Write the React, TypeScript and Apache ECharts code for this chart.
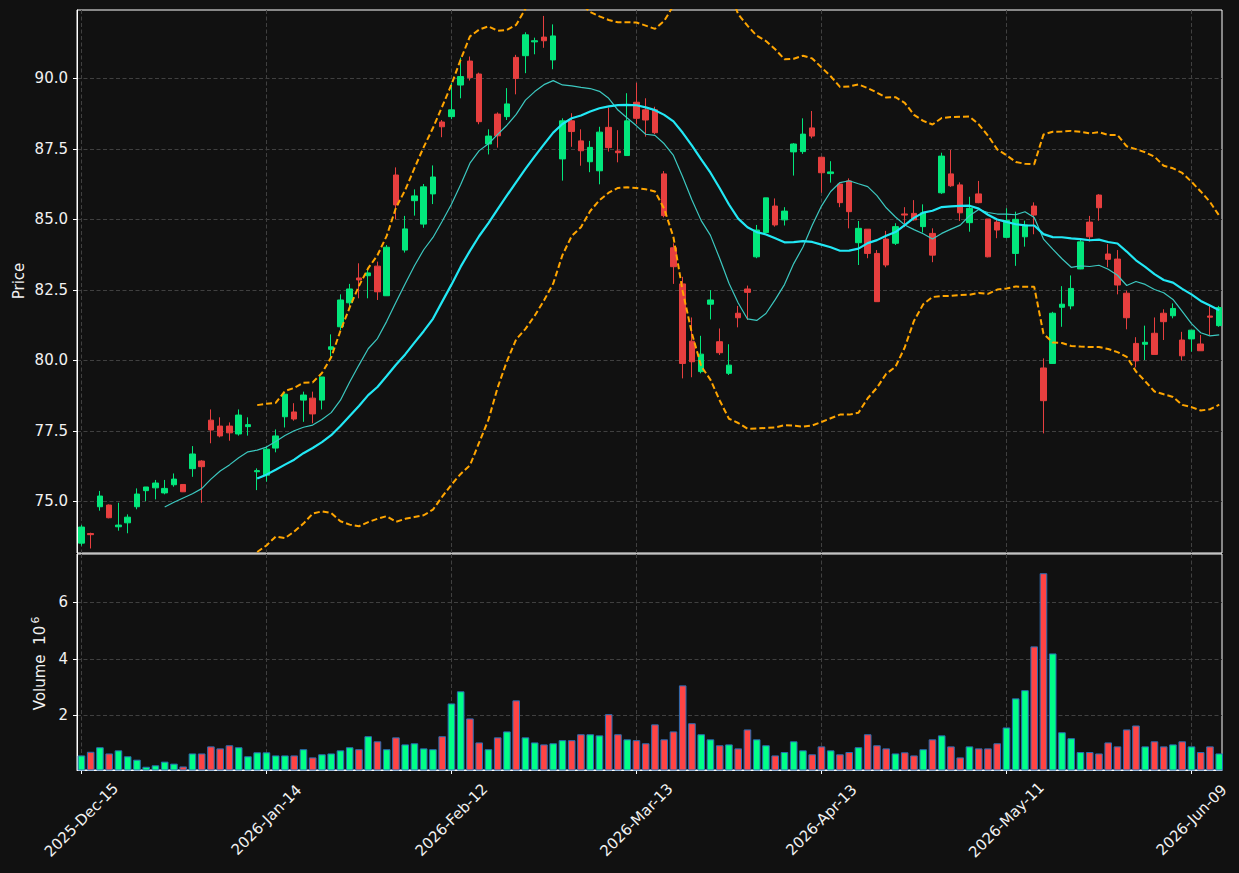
import React, { useEffect, useRef } from "react";
import * as echarts from "echarts";

const tickIndex = [0, 20, 40, 60, 80, 100, 120];
const tickLabels = ["2025-Dec-15", "2026-Jan-14", "2026-Feb-12", "2026-Mar-13", "2026-Apr-13", "2026-May-11", "2026-Jun-09"];

const opens = [
  73.52, 73.86, 74.81, 74.87, 74.10, 74.24, 74.81, 75.38, 75.48, 75.30,
  75.59, 75.60, 76.16, 76.43, 77.88, 77.67, 77.67, 77.39, 77.65, 76.05,
  75.93, 76.89, 78.00, 78.17, 78.59, 78.66, 78.59, 80.39, 81.19, 82.04,
  82.92, 83.00, 83.34, 82.29, 86.57, 83.91, 85.66, 84.83, 85.90, 88.45,
  88.64, 89.76, 90.61, 90.15, 87.67, 88.73, 88.64, 90.74, 90.80, 91.29,
  91.46, 90.65, 87.14, 88.49, 87.78, 87.04, 86.72, 88.26, 87.42, 87.26,
  89.15, 88.88, 88.88, 86.61, 83.99, 82.71, 80.68, 79.60, 81.99, 80.66,
  79.54, 81.67, 82.53, 83.67, 84.53, 85.47, 84.98, 87.39, 87.40, 88.24,
  87.20, 86.62, 86.25, 86.36, 84.17, 84.65, 83.79, 84.30, 84.15, 85.19,
  85.21, 84.74, 84.50, 85.94, 86.61, 86.22, 84.88, 85.90, 85.01, 84.90,
  84.36, 83.79, 84.38, 85.47, 79.73, 79.89, 81.88, 81.93, 83.24, 84.90,
  85.86, 83.77, 83.59, 82.38, 80.60, 80.57, 80.96, 81.67, 81.58, 80.72,
  80.76, 80.58, 81.57, 81.23,
];
const highs = [
  74.16, 73.89, 75.37, 74.89, 74.95, 74.54, 75.46, 75.51, 75.76, 75.76,
  75.99, 75.61, 76.96, 76.46, 78.26, 77.98, 77.80, 78.26, 77.98, 76.17,
  76.96, 77.55, 78.83, 78.48, 78.89, 78.89, 79.41, 80.92, 82.34, 82.71,
  83.44, 83.26, 83.50, 84.09, 86.84, 85.12, 86.06, 86.25, 86.91, 88.52,
  89.83, 90.73, 90.77, 90.20, 88.19, 88.79, 89.65, 90.83, 91.63, 91.44,
  92.21, 91.91, 88.58, 88.76, 88.19, 87.78, 88.28, 88.96, 88.16, 89.47,
  89.84, 89.29, 88.99, 86.71, 84.15, 82.96, 81.52, 80.87, 82.49, 81.13,
  80.57, 81.93, 82.65, 84.80, 85.76, 85.74, 85.43, 87.70, 88.58, 88.84,
  87.22, 87.06, 86.25, 86.45, 84.94, 84.65, 83.91, 84.59, 84.86, 85.43,
  85.68, 85.53, 84.68, 87.36, 87.46, 86.31, 85.80, 86.36, 85.01, 84.98,
  85.39, 85.27, 84.95, 85.60, 80.07, 81.72, 82.63, 83.01, 84.27, 85.12,
  85.89, 84.12, 83.91, 82.47, 80.82, 81.23, 81.52, 81.81, 82.02, 81.01,
  81.07, 80.90, 81.93, 81.93,
];
const lows = [
  73.43, 73.33, 74.67, 74.40, 73.96, 73.87, 74.72, 75.01, 75.07, 75.25,
  75.52, 75.33, 75.87, 74.95, 77.06, 77.27, 77.15, 77.33, 77.33, 75.40,
  75.70, 76.74, 77.62, 77.86, 77.82, 77.77, 78.26, 80.13, 81.07, 81.90,
  82.20, 82.20, 82.14, 82.29, 85.00, 83.82, 85.13, 84.70, 85.54, 87.91,
  88.55, 89.29, 89.92, 88.37, 87.30, 87.54, 88.52, 89.43, 90.18, 90.85,
  91.08, 90.32, 86.37, 87.57, 86.90, 86.67, 86.24, 87.40, 87.02, 87.26,
  88.38, 87.93, 88.02, 85.07, 82.71, 79.36, 79.40, 79.54, 81.45, 80.19,
  79.48, 81.17, 81.43, 83.62, 84.50, 84.74, 84.78, 86.55, 87.32, 87.87,
  85.94, 86.30, 85.43, 84.68, 83.38, 83.62, 82.08, 83.30, 84.09, 84.72,
  84.95, 84.53, 83.48, 85.90, 86.15, 84.94, 84.56, 85.57, 83.65, 84.33,
  84.33, 83.35, 84.03, 84.47, 77.41, 79.87, 81.19, 81.81, 83.23, 84.21,
  84.95, 83.30, 82.34, 81.10, 79.75, 80.01, 80.21, 80.72, 81.49, 79.99,
  80.31, 80.34, 80.90, 81.19,
];
const closes = [
  74.09, 73.82, 75.19, 74.42, 74.16, 74.44, 75.26, 75.51, 75.65, 75.46,
  75.79, 75.34, 76.68, 76.23, 77.53, 77.32, 77.43, 78.06, 77.72, 76.09,
  76.85, 77.32, 78.80, 77.92, 78.77, 78.10, 79.41, 80.48, 82.14, 82.53,
  82.85, 83.10, 82.43, 84.01, 85.51, 84.66, 85.83, 86.15, 86.50, 88.28,
  88.88, 90.06, 90.02, 88.46, 87.95, 87.96, 89.09, 89.99, 91.54, 91.33,
  91.33, 91.50, 88.49, 88.11, 87.43, 87.55, 88.09, 87.54, 87.36, 88.49,
  88.58, 88.52, 88.07, 85.13, 83.32, 79.89, 79.95, 80.22, 82.14, 80.27,
  79.83, 81.51, 82.41, 84.62, 85.76, 84.80, 85.29, 87.67, 88.02, 87.95,
  86.65, 86.68, 85.59, 85.27, 84.68, 83.79, 82.08, 83.38, 84.74, 85.15,
  84.98, 85.23, 83.73, 87.24, 86.19, 85.23, 85.39, 85.59, 83.67, 84.62,
  84.96, 85.00, 84.80, 85.15, 78.57, 81.67, 81.99, 82.55, 84.20, 84.38,
  85.41, 83.58, 82.67, 81.51, 79.98, 80.64, 80.21, 81.37, 81.84, 80.16,
  81.07, 80.34, 81.53, 81.87,
];
const volumes = [
  580000, 710000, 870000, 650000, 760000, 550000, 430000, 180000, 230000, 360000,
  290000, 190000, 650000, 650000, 900000, 830000, 940000, 870000, 550000, 690000,
  690000, 580000, 580000, 580000, 800000, 510000, 620000, 650000, 760000, 870000,
  800000, 1260000, 1080000, 800000, 1220000, 970000, 1010000, 830000, 800000, 1260000,
  2420000, 2850000, 1890000, 1040000, 800000, 1220000, 1430000, 2530000, 1220000, 1040000,
  970000, 1010000, 1120000, 1120000, 1330000, 1330000, 1290000, 2040000, 1330000, 1150000,
  1120000, 1010000, 1680000, 1150000, 1430000, 3060000, 1720000, 1330000, 1150000, 940000,
  970000, 830000, 1500000, 1150000, 940000, 580000, 700000, 1080000, 760000, 620000,
  900000, 760000, 620000, 700000, 870000, 1330000, 940000, 830000, 650000, 690000,
  580000, 800000, 1150000, 1290000, 900000, 510000, 900000, 830000, 830000, 1010000,
  1570000, 2600000, 2890000, 4440000, 7030000, 4190000, 1400000, 1190000, 700000, 700000,
  650000, 1040000, 900000, 1500000, 1640000, 900000, 1080000, 900000, 970000, 1080000,
  900000, 700000, 900000, 650000,
];

const priceTicks = [75, 77.5, 80, 82.5, 85, 87.5, 90];
const volumeTicks = [2000000, 4000000, 6000000];

const UP = "#02e77c";
const DOWN = "#e73f3f";
const VUP = "#00ff88";
const VDOWN = "#ff4444";
const VEDGE = "#2a6db5";
const TEXT = "#f2f2f2";
const FONT = "DejaVu Sans";
const FS = 15;

function sma(values: number[], n: number) {
  const out: number[][] = [];
  for (let i = n - 1; i < values.length; i++) {
    let s = 0;
    for (let j = i - n + 1; j <= i; j++) s += values[j];
    out.push([i, s / n]);
  }
  return out;
}

function bands(values: number[], n: number, k: number) {
  const up: number[][] = [];
  const lo: number[][] = [];
  for (let i = n - 1; i < values.length; i++) {
    const w = values.slice(i - n + 1, i + 1);
    const m = w.reduce((a, b) => a + b, 0) / n;
    const v = w.reduce((a, b) => a + (b - m) * (b - m), 0) / (n - 1);
    const sd = Math.sqrt(v);
    up.push([i, m + k * sd]);
    lo.push([i, m - k * sd]);
  }
  return { up, lo };
}

export default function App() {
  const ref = useRef<HTMLDivElement>(null);
  useEffect(() => {
    const chart = echarts.init(ref.current!, null, { renderer: "svg" });
    const ma10 = sma(closes, 10);
    const ma20 = sma(closes, 20);
    const bb = bands(closes, 20, 2);
    const grid = { color: "#404040", width: 1, type: [4, 2.5] as number[] };
    const xMin = -0.48;
    const xMax = 123.3;
    const xFmt = (v: number) => {
      const k = tickIndex.indexOf(Math.round(v));
      return k >= 0 ? tickLabels[k] : "";
    };
    const option: any = {
      animation: false,
      backgroundColor: "#111111",
      grid: [
        { left: 77, top: 10, width: 1145, height: 543, show: true, borderColor: "#ffffff", borderWidth: 1, backgroundColor: "#111111" },
        { left: 77, top: 554, width: 1145, height: 216, show: true, borderColor: "#ffffff", borderWidth: 1, backgroundColor: "#111111" },
      ],
      xAxis: [
        {
          type: "value", gridIndex: 0, min: xMin, max: xMax,
          axisLine: { show: false },
          axisTick: { show: false, customValues: tickIndex },
          axisLabel: { show: false, customValues: tickIndex },
          splitLine: { show: true, lineStyle: grid },
        },
        {
          type: "value", gridIndex: 1, min: xMin, max: xMax,
          axisLine: { show: true, onZero: false, lineStyle: { color: "#ffffff", width: 1 } },
          axisTick: { show: true, customValues: tickIndex, length: 4, lineStyle: { color: "#ffffff", width: 1 } },
          axisLabel: {
            customValues: tickIndex, formatter: xFmt, rotate: 45, align: "center", verticalAlign: "middle",
            margin: 50, color: TEXT, fontSize: FS, fontFamily: FONT,
          },
          splitLine: { show: true, lineStyle: grid },
        },
      ],
      yAxis: [
        {
          type: "value", gridIndex: 0, min: 73.17, max: 92.42, position: "left",
          axisLine: { show: true, onZero: false, lineStyle: { color: "#ffffff", width: 1 } },
          axisTick: { show: true, customValues: priceTicks, length: 4, lineStyle: { color: "#ffffff" } },
          axisLabel: { customValues: priceTicks, formatter: (v: number) => v.toFixed(1), margin: 9, color: TEXT, fontSize: FS, fontFamily: FONT },
          splitLine: { show: true, lineStyle: grid },
        },
        {
          type: "value", gridIndex: 1, min: 64000, max: 7710000, position: "left",
          axisLine: { show: true, onZero: false, lineStyle: { color: "#ffffff", width: 1 } },
          axisTick: { show: true, customValues: volumeTicks, length: 4, lineStyle: { color: "#ffffff" } },
          axisLabel: { customValues: volumeTicks, formatter: (v: number) => String(Math.round(v / 1e6)), margin: 9, color: TEXT, fontSize: FS, fontFamily: FONT },
          splitLine: { show: true, lineStyle: grid },
        },
      ],
      graphic: [
        {
          type: "text", x: 19, y: 281, rotation: Math.PI / 2,
          style: { text: "Price", fill: TEXT, font: `${FS}px "${FONT}"`, textAlign: "center", textVerticalAlign: "middle", align: "center", verticalAlign: "middle" },
        },
        {
          type: "text", x: 40, y: 668, rotation: Math.PI / 2,
          style: { text: "Volume  10", fill: TEXT, font: `${FS}px "${FONT}"`, textAlign: "center", textVerticalAlign: "middle", align: "center", verticalAlign: "middle" },
        },
        {
          type: "text", x: 35, y: 620, rotation: Math.PI / 2,
          style: { text: "6", fill: TEXT, font: `11px "${FONT}"`, textAlign: "center", textVerticalAlign: "middle", align: "center", verticalAlign: "middle" },
        },
      ],
      series: [
        {
          type: "candlestick", xAxisIndex: 0, yAxisIndex: 0,
          data: opens.map((o, i) => [i, o, closes[i], lows[i], highs[i]]),
          encode: { x: 0, y: [1, 2, 3, 4] },
          barWidth: 6,
          itemStyle: { color: UP, color0: DOWN, borderColor: UP, borderColor0: DOWN, borderWidth: 1 },
        },
        { type: "line", xAxisIndex: 0, yAxisIndex: 0, data: ma10, showSymbol: false, lineStyle: { color: "#3cc8c0", width: 1.2 } },
        { type: "line", xAxisIndex: 0, yAxisIndex: 0, data: ma20, showSymbol: false, lineStyle: { color: "#22e8f5", width: 2.2 } },
        { type: "line", xAxisIndex: 0, yAxisIndex: 0, data: bb.up, showSymbol: false, lineStyle: { color: "#ffa500", width: 2, type: [6, 3] } },
        { type: "line", xAxisIndex: 0, yAxisIndex: 0, data: bb.lo, showSymbol: false, lineStyle: { color: "#ffa500", width: 2, type: [6, 3] } },
        {
          type: "bar", xAxisIndex: 1, yAxisIndex: 1,
          data: volumes.map((v, i) => [i, v]),
          barWidth: 7.6,
          itemStyle: {
            color: (p: any) => (closes[p.dataIndex] >= opens[p.dataIndex] ? VUP : VDOWN),
            borderColor: VEDGE, borderWidth: 1,
          },
        },
      ],
    };
    chart.setOption(option);
    return () => chart.dispose();
  }, []);
  return <div ref={ref} style={{ position: "fixed", left: 0, top: 0, width: 1239, height: 873 }} />;
}
